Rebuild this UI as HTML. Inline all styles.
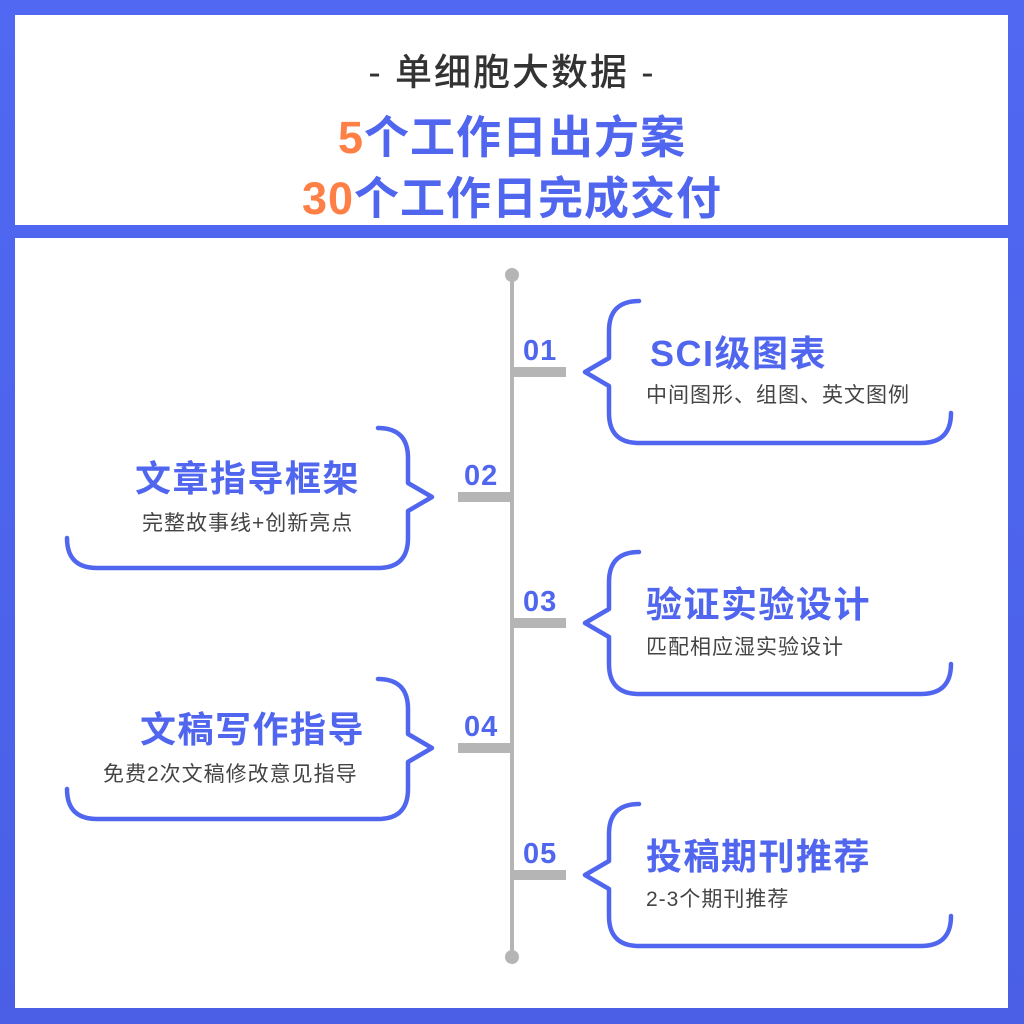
<!DOCTYPE html>
<html><head><meta charset="utf-8"><style>
html,body{margin:0;padding:0;}
body{width:1024px;height:1024px;background:#5066ef;position:relative;overflow:hidden;font-family:"Liberation Sans","Noto Sans CJK SC",sans-serif;}
</style></head><body>
<svg width="1024" height="1024" viewBox="0 0 1024 1024" xmlns="http://www.w3.org/2000/svg" style="position:absolute;left:0;top:0">
<defs><linearGradient id="bg" x1="0" y1="0" x2="0" y2="1"><stop offset="0" stop-color="#5068f2"/><stop offset="1" stop-color="#4a5fe6"/></linearGradient></defs>
<rect width="1024" height="1024" fill="url(#bg)"/>
<rect x="15" y="15" width="993" height="210" fill="#fff"/>
<rect x="15" y="238" width="993" height="770" fill="#fff"/>
<g font-family="Liberation Sans, Noto Sans CJK SC, sans-serif" text-anchor="middle" font-weight="bold">
<text x="512" y="85" font-size="37" fill="#333" font-weight="500" letter-spacing="2">- 单细胞大数据 -</text>
<text x="512" y="153" font-size="45" fill="#5066ef" letter-spacing="1"><tspan fill="#ff8046">5</tspan>个工作日出方案</text>
<text x="512" y="214" font-size="45" fill="#5066ef" letter-spacing="1"><tspan fill="#ff8046">30</tspan>个工作日完成交付</text>
</g>
<line x1="512" y1="275" x2="512" y2="957" stroke="#b5b5b5" stroke-width="4"/>
<circle cx="512" cy="275" r="7" fill="#b5b5b5"/>
<circle cx="512" cy="957" r="7" fill="#b5b5b5"/>
<g fill="#b5b5b5">
<rect x="512" y="367" width="54" height="10"/>
<rect x="458" y="492" width="54" height="10"/>
<rect x="512" y="618" width="54" height="10"/>
<rect x="458" y="743" width="54" height="10"/>
<rect x="512" y="870" width="54" height="10"/>
</g>
<g font-family="Liberation Sans, sans-serif" font-size="29" fill="#5066ef" font-weight="bold" letter-spacing="1">
<text x="523" y="360">01</text>
<text x="464" y="485">02</text>
<text x="523" y="611">03</text>
<text x="464" y="736">04</text>
<text x="523" y="863">05</text>
</g>
<g fill="none" stroke="#5066ef" stroke-width="4.5" stroke-linejoin="round" stroke-linecap="round">
<path d="M639 301 Q609 301 609 331 L609 358 L585 372 L609 386 L609 413 Q609 443 639 443 L921 443 Q951 443 951 413"/>
<path d="M639 552 Q609 552 609 582 L609 609 L585 623 L609 637 L609 664 Q609 694 639 694 L921 694 Q951 694 951 664"/>
<path d="M639 804 Q609 804 609 834 L609 861 L585 875 L609 889 L609 916 Q609 946 639 946 L921 946 Q951 946 951 916"/>
<path d="M378 428 Q408 428 408 458 L408 483 L432 497 L408 511 L408 538 Q408 568 378 568 L97 568 Q67 568 67 538"/>
<path d="M378 679 Q408 679 408 709 L408 734 L432 748 L408 762 L408 789 Q408 819 378 819 L97 819 Q67 819 67 789"/>
</g>
<g font-family="Liberation Sans, Noto Sans CJK SC, sans-serif">
<g font-size="36" font-weight="bold" fill="#5066ef" letter-spacing="1.5">
<text x="650" y="366">SCI级图表</text>
<text x="646" y="617">验证实验设计</text>
<text x="646" y="869">投稿期刊推荐</text>
<text x="135" y="491">文章指导框架</text>
<text x="140" y="742">文稿写作指导</text>
</g>
<g font-size="21" fill="#444" letter-spacing="1">
<text x="646" y="402">中间图形、组图、英文图例</text>
<text x="646" y="654">匹配相应湿实验设计</text>
<text x="646" y="906">2-3个期刊推荐</text>
<text x="142" y="530">完整故事线+创新亮点</text>
<text x="103" y="781">免费2次文稿修改意见指导</text>
</g>
</g>
</svg>
</body></html>
